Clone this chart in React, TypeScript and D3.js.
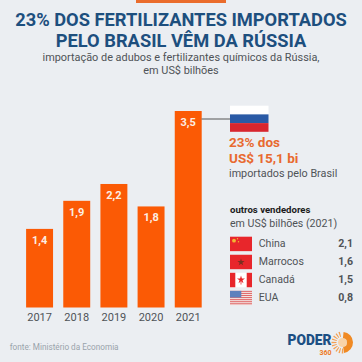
import React from "react";
import * as d3 from "d3";

const years = ["2017", "2018", "2019", "2020", "2021"];
const values = [1.4, 1.9, 2.2, 1.8, 3.5];
const sellers = ["China", "Marrocos", "Canadá", "EUA"];
const sellerValues = [2.1, 1.6, 1.5, 0.8];
const titleLines = ["23% DOS FERTILIZANTES IMPORTADOS", "PELO BRASIL VÊM DA RÚSSIA"];
const subtitleLines = ["importação de adubos e fertilizantes químicos da Rússia,", "em US$ bilhões"];

const W = 362;
const FONT = "Roboto, sans-serif";
const ORANGE = "#fb5a05";
const NAVY = "#1d4f7e";
const GREY = "#4f5357";
const fmt = (v: number) => v.toFixed(1).replace(".", ",");

const x = d3.scaleBand<string>().domain(years).range([19.6, 208.2]).paddingInner(0.275).paddingOuter(0.175);
const y = d3.scaleLinear().domain([0, 3.5]).range([307.5, 111]);
const rowY = d3.scaleBand<string>().domain(sellers).range([236.7, 305.3]).paddingInner(0.2);

function Flag({ name, top, h }: { name: string; top: number; h: number }) {
  const l = 230, w = 22;
  if (name === "China")
    return (
      <g>
        <rect x={l} y={top} width={w} height={h} fill="#e8262b" />
        <circle cx={l + 4} cy={top + 4} r={1.9} fill="#f2b632" />
        <circle cx={l + 7.5} cy={top + 2} r={0.7} fill="#f2b632" />
        <circle cx={l + 8.5} cy={top + 5} r={0.7} fill="#f2b632" />
      </g>
    );
  if (name === "Marrocos") {
    const star = d3.symbol().type(d3.symbolStar).size(16)();
    return (
      <g>
        <rect x={l} y={top} width={w} height={h} fill="#e8262b" />
        <path d={star ?? ""} transform={`translate(${l + 11},${top + h / 2 + 0.3})`} fill="#7a2f20" />
      </g>
    );
  }
  if (name === "Canadá") {
    const leaf = d3.symbol().type(d3.symbolStar).size(20)();
    return (
      <g>
        <rect x={l} y={top} width={w} height={h} fill="#fff" />
        <rect x={l} y={top} width={5.3} height={h} fill="#e8262b" />
        <rect x={l + w - 5.3} y={top} width={5.3} height={h} fill="#e8262b" />
        <path d={leaf ?? ""} transform={`translate(${l + 11},${top + h / 2 - 0.3})`} fill="#e8262b" />
        <rect x={l + 10.6} y={top + h / 2 + 1.5} width={0.8} height={3} fill="#e8262b" />
      </g>
    );
  }
  const stripes = d3.range(7);
  return (
    <g>
      <rect x={l} y={top} width={w} height={h} fill="#f3e4e2" />
      {stripes.map((i) => (
        <rect key={i} x={l} y={top + (i * h) / 7} width={w} height={h / 14} fill="#e0696a" />
      ))}
      <rect x={l} y={top} width={11.3} height={h * 0.46} fill="#5d80bd" />
    </g>
  );
}

function Logo() {
  const rays = d3.range(180, 360, 18);
  const arc = d3.arc();
  return (
    <g>
      <text x={331.5} y={345} textAnchor="end" fontFamily={FONT} fontWeight={900} fontSize={14.5} fill="#1c4f84" textLength={44} lengthAdjust="spacingAndGlyphs">PODER</text>
      <text x={331.5} y={355} textAnchor="end" fontFamily={FONT} fontWeight={700} fontSize={7} fill="#ee7a24">360</text>
      <g transform="translate(342.5,342.5)">
        <circle r={4.5} fill="#f9d3a8" />
        <path d={arc({ innerRadius: 4.5, outerRadius: 10.5, startAngle: 0.1, endAngle: 3.0 }) ?? ""} fill="#f08a24" />
        {rays.map((a) => (
          <path key={a} d={arc({ innerRadius: 6, outerRadius: 11, startAngle: ((a - 4) * Math.PI) / 180, endAngle: ((a + 4) * Math.PI) / 180 }) ?? ""} fill="#f3a052" />
        ))}
      </g>
    </g>
  );
}

export default function App() {
  const band = x.bandwidth();
  return (
    <svg width={W} height={W} viewBox={`0 0 ${W} ${W}`} style={{ position: "absolute", left: 0, top: 0 }} fontFamily={FONT}>
      <rect width={W} height={W} fill="#ebeef2" />
      <rect x={136} y={0} width={90} height={3} fill="#ea6c2c" />
      {titleLines.map((t, i) => (
        <text key={t} x={181} y={25.7 + i * 21} textAnchor="middle" fontSize={18.3} fontWeight={700} fill={NAVY}>{t}</text>
      ))}
      {subtitleLines.map((t, i) => (
        <text key={t} x={181} y={60.5 + i * 13.2} textAnchor="middle" fontSize={10.9} fill={GREY}>{t}</text>
      ))}

      {years.map((yr, i) => (
        <g key={yr}>
          <rect x={x(yr)} y={y(values[i])} width={band} height={y(0) - y(values[i])} fill={ORANGE} />
          <text x={x(yr)! + band / 2} y={y(values[i]) + 15} textAnchor="middle" fontSize={11} fontWeight={700} fill="#fbeee4">{fmt(values[i])}</text>
          <text x={x(yr)! + band / 2} y={321} textAnchor="middle" fontSize={11} fill={GREY}>{yr}</text>
        </g>
      ))}

      <line x1={201.5} x2={230} y1={119} y2={119} stroke="#555" strokeWidth={1} />
      <rect x={230} y={105.7} width={38.5} height={8.7} fill="#fff" />
      <rect x={230} y={114.4} width={38.5} height={8.7} fill="#2a5aa6" />
      <rect x={230} y={123.1} width={38.5} height={8.7} fill="#d8262f" />
      <text x={229} y={147} fontSize={13.5} fontWeight={700} fill="#e8692f">23% dos</text>
      <text x={229} y={163} fontSize={13.5} fontWeight={700} fill="#e8692f">US$ 15,1 bi</text>
      <text x={229} y={177} fontSize={10.8} fill={GREY}>importados pelo Brasil</text>

      <text x={230} y={213} fontSize={9.6} fontWeight={700} fill="#1c1c1c">outros vendedores</text>
      <text x={230} y={227} fontSize={10.6} fill={GREY}>em US$ bilhões (2021)</text>
      {sellers.map((s, i) => {
        const top = rowY(s)!;
        const h = rowY.bandwidth();
        return (
          <g key={s}>
            <Flag name={s} top={top} h={h} />
            <text x={258.7} y={top + h / 2 + 3.4} fontSize={10.6} fill={GREY}>{s}</text>
            <text x={353} y={top + h / 2 + 3.4} textAnchor="end" fontSize={10.6} fontWeight={700} fill={GREY}>{fmt(sellerValues[i])}</text>
          </g>
        );
      })}

      <text x={9.7} y={350} fontSize={8.2} fill="#9aa3ab">fonte: Ministério da Economia</text>
      <Logo />
    </svg>
  );
}
